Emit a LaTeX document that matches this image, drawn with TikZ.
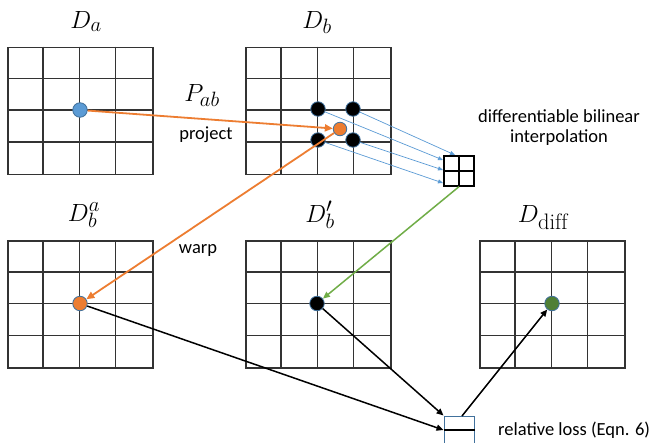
\documentclass[tikz,border=0pt]{standalone}
\usepackage{fontspec}
\setsansfont{Carlito}
\usetikzlibrary{arrows.meta,calc}
\definecolor{gridgray}{HTML}{333333}
\definecolor{dotblue}{HTML}{5B9BD5}
\definecolor{dotorange}{HTML}{ED7D31}
\definecolor{dotgreen}{HTML}{4F7F35}
\definecolor{arrowgreen}{HTML}{70AD47}
\definecolor{edgeblue}{HTML}{41719C}
\newcommand\cellgrid[3]{%
  \node[gridbox, anchor=north west] (#1) at (#2,#3) {};
  \foreach \i in {1,2,3} {
    \draw[gridline] ({#2+\i*36.2},#3) -- ++(0,127);
    \draw[gridline] (#2,{#3+\i*31.75}) -- ++(145,0);
  }%
}
\begin{document}
\begin{tikzpicture}[x=1pt,y=-1pt,
  gridline/.style={draw=gridgray,line width=1.5pt},
  gridbox/.style={draw=gridgray,line width=1.5pt,minimum width=145pt,minimum height=127pt,inner sep=0pt},
  dot/.style={circle,minimum size=14.5pt,inner sep=0pt,draw=edgeblue,line width=0.8pt},
  title/.style={inner sep=0pt,font=\fontsize{32}{34}\selectfont},
  lbl/.style={inner sep=0pt,font=\sffamily\fontsize{18.5}{22}\selectfont,align=center},
  orarrow/.style={draw=dotorange,line width=1.8pt,-{Triangle[length=8pt,width=7pt]}},
  bkarrow/.style={draw=black,line width=1.5pt,-{Triangle[length=7pt,width=6pt]}},
  blarrow/.style={draw=dotblue,line width=0.7pt,-{Triangle[length=5pt,width=4pt]}},
  grarrow/.style={draw=arrowgreen,line width=1.5pt,-{Triangle[length=7pt,width=6pt]}}]
\useasboundingbox[fill=white] (0,0) rectangle (656,442);

% grids
\cellgrid{ga}{7}{46.5}
\cellgrid{gb}{245}{46.5}
\cellgrid{gba}{7}{240}
\cellgrid{gbp}{245}{240}
\cellgrid{gd}{479}{240}

% titles
\node[title,anchor=base] (ta) at (86,28) {$D_a$};
\node[title,anchor=base] (tb) at (317,28) {$D_b$};
\node[title,anchor=base] (tp) at (202,101) {$P_{ab}$};
\node[title,anchor=base] (tba) at (84,221) {$D_b^a$};
\node[title,anchor=base] (tbp) at (320,222) {$D_b'$};
\node[title,anchor=base] (td) at (543,222) {$D_{\mathrm{diff}}$};

% labels
\node[lbl] (lproj) at (206,135) {project};
\node[lbl] (lwarp) at (198,250) {warp};
\node[lbl] (linterp) at (559,128) {differentiable bilinear\\[-2pt]interpolation};
\node[lbl,anchor=west] (lloss) at (498,430) {relative loss (Eqn. 6)};

% small interpolation grid
\node[draw=black,line width=1.3pt,minimum size=30pt,inner sep=0pt] (interp) at (459,171) {};
\draw[black,line width=1.3pt] (interp.north) -- (interp.south);
\draw[black,line width=1.3pt] (interp.west) -- (interp.east);

% loss box
\node[draw=edgeblue,line width=1pt,minimum width=30pt,minimum height=28pt,inner sep=0pt] (loss) at (459,430) {};
\draw[black,line width=1.5pt] (loss.west) -- (loss.east);

% dots
\node[dot,fill=dotblue] (pa) at (80,110) {};
\node[dot,fill=black] (n1) at (318,109) {};
\node[dot,fill=black] (n2) at (353,109) {};
\node[dot,fill=black] (n3) at (318,140) {};
\node[dot,fill=black] (n4) at (353,140) {};
\node[dot,fill=dotorange,minimum size=13.5pt] (pb) at (340,129) {};
\node[dot,fill=dotorange] (pba) at (80,303.5) {};
\node[dot,fill=black] (pbp) at (317,303.5) {};
\node[dot,fill=dotgreen] (pd) at (552,303.5) {};

% interpolation targets
\coordinate (i2) at (455,155);
\coordinate (i1) at (443,160);
\coordinate (i4) at (443,170);
\coordinate (i3) at (443,183);
\coordinate (lossout) at (462,416);

% arrows
\draw[blarrow] (n1) -- (i1);
\draw[blarrow] (n2) -- (i2);
\draw[blarrow] (n3) -- (i3);
\draw[blarrow] (n4) -- (i4);
\draw[orarrow] (pa) -- (pb);
\draw[orarrow] (pb) -- (pba);
\draw[grarrow] (interp.south) -- (pbp);
\draw[bkarrow] (pba) -- (loss.west);
\draw[bkarrow] (pbp) -- (loss.north west);
\draw[bkarrow] (lossout) -- (pd);
\end{tikzpicture}
\end{document}
